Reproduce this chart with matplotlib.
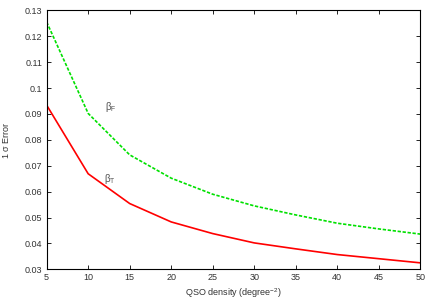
import numpy as np
import matplotlib.pyplot as plt

plt.rcParams['font.family'] = ['Liberation Sans', 'DejaVu Sans']
plt.rcParams['mathtext.default'] = 'regular'

# QSO density (degree^-2) and 1-sigma errors
density = [5, 10, 15, 20, 25, 30, 35, 40, 45, 50]
err_beta_f = [0.1255, 0.0902, 0.0742, 0.0652, 0.0590, 0.0545, 0.0510, 0.0478, 0.0456, 0.0436]
err_beta_t = [0.0934, 0.0669, 0.0554, 0.0483, 0.0438, 0.0402, 0.0379, 0.0357, 0.0341, 0.0325]

fig = plt.figure(figsize=(4.36, 3.05), dpi=100)
ax = fig.add_axes([0.107, 0.117, 0.857, 0.849])

ax.plot(density, err_beta_f, color='#00e000', lw=1.2, linestyle=(0, (2, 1)))
ax.plot(density, err_beta_t, color='#ff0000', lw=1.2)

txt = '#333333'
ax.text(12.7, 0.0927, r'$\beta_F$', fontsize=7, ha='center', va='center', color='#555555')
ax.text(12.6, 0.0648, r'$\beta_T$', fontsize=7, ha='center', va='center', color='#555555')

ax.set_xlim(5, 50)
ax.set_ylim(0.03, 0.13)
ax.set_xticks(np.arange(5, 51, 5))
ax.set_yticks(np.arange(0.03, 0.131, 0.01))
ax.set_yticklabels(['0.03', '0.04', '0.05', '0.06', '0.07', '0.08', '0.09', '0.1', '0.11', '0.12', '0.13'])
ax.tick_params(direction='in', top=True, right=True, labelsize=6.5, length=3, width=0.6, pad=3,
               labelcolor=txt)
for s in ax.spines.values():
    s.set_linewidth(0.8)

ax.set_xlabel(r'QSO density (degree$^{-2}$)', fontsize=6.5, labelpad=3, color=txt)
ax.set_ylabel(r'1 $\sigma$ Error', fontsize=6.5, labelpad=10, color=txt)

fig.savefig('out.png', dpi=100)
